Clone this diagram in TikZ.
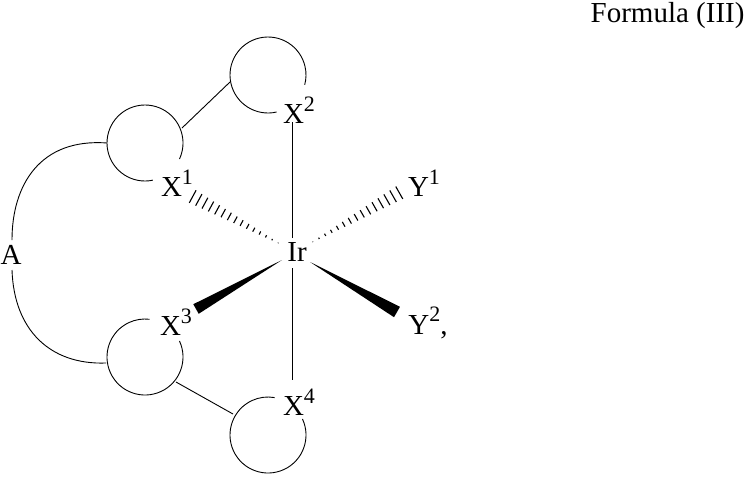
\documentclass[tikz,border=0pt]{standalone}
\usepackage{fontspec}
\setmainfont{Liberation Serif}
\usetikzlibrary{calc}
\newcommand{\supr}[1]{\raisebox{0.42em}{\fontsize{22}{24}\selectfont #1}}
\begin{document}
\begin{tikzpicture}[x=1pt,y=-1pt,
  lbl/.style={font=\fontsize{29}{32}\selectfont,inner sep=1pt},
  ring/.style={draw,line width=0.9pt},
  bond/.style={line width=0.9pt}]
\useasboundingbox (0,0) rectangle (749,477);
\node[font=\fontsize{29}{32}\selectfont,anchor=east] (title) at (748,16) {Formula (III)};
% rings (gaps where labels sit)
\draw[ring] ($(268,75)+(77:38)$) arc[start angle=77,end angle=375,radius=38];
\draw[ring] ($(145,143)+(78:38)$) arc[start angle=78,end angle=385,radius=38];
\draw[ring] ($(145,357)+(-25:38)$) arc[start angle=-25,end angle=277,radius=38];
\draw[ring] ($(268,435)+(-25:38)$) arc[start angle=-25,end angle=280,radius=38];
% A arc
\draw[bond] (107,143) .. controls (40,138) and (12,185) .. (12,240);
\draw[bond] (12,270) .. controls (14,330) and (50,365) .. (106,363);
\node[lbl] (A) at (11,255) {A};
% ring links
\draw[bond] (182,128) -- (230,82);
\draw[bond] (176,382) -- (233,414);
% labels
\node[lbl] (Ir) at (297,252) {Ir};
\node[lbl] (X1) at (177,183) {X\supr{1}};
\node[lbl] (X2) at (299,110) {X\supr{2}};
\node[lbl] (X3) at (176,322) {X\supr{3}};
\node[lbl] (X4) at (299,402) {X\supr{4}};
\node[lbl] (Y1) at (424,183) {Y\supr{1}};
\node[lbl] (Y2) at (428,323) {Y\supr{2},};
% straight bonds
\draw[bond] (292,238) -- (292,122);
\draw[bond] (292,268) -- (292,380);
% hashed wedges
\coordinate (h1a) at (282,245); \coordinate (h1b) at (188,194);
\coordinate (h2a) at (309,244); \coordinate (h2b) at (404,190);
\foreach \s/\e in {h1a/h1b,h2a/h2b}{
  \foreach \t in {0.04,0.105,...,1.0}{
    \coordinate (P) at ($(\s)!\t!(\e)$);
    \draw[line width=1.1pt] ($(P)!{\t*7.5pt}!90:(\s)$) -- ($(P)!{\t*7.5pt}!-90:(\s)$);
  }
}
% solid wedges
\coordinate (s1a) at (282,260); \coordinate (s1b) at (196,309);
\coordinate (s2a) at (310,262); \coordinate (s2b) at (397,312);
\fill (s1a) -- ($(s1b)!5.5pt!90:(s1a)$) -- ($(s1b)!5.5pt!-90:(s1a)$) -- cycle;
\fill (s2a) -- ($(s2b)!6pt!90:(s2a)$) -- ($(s2b)!6pt!-90:(s2a)$) -- cycle;
\end{tikzpicture}
\end{document}
